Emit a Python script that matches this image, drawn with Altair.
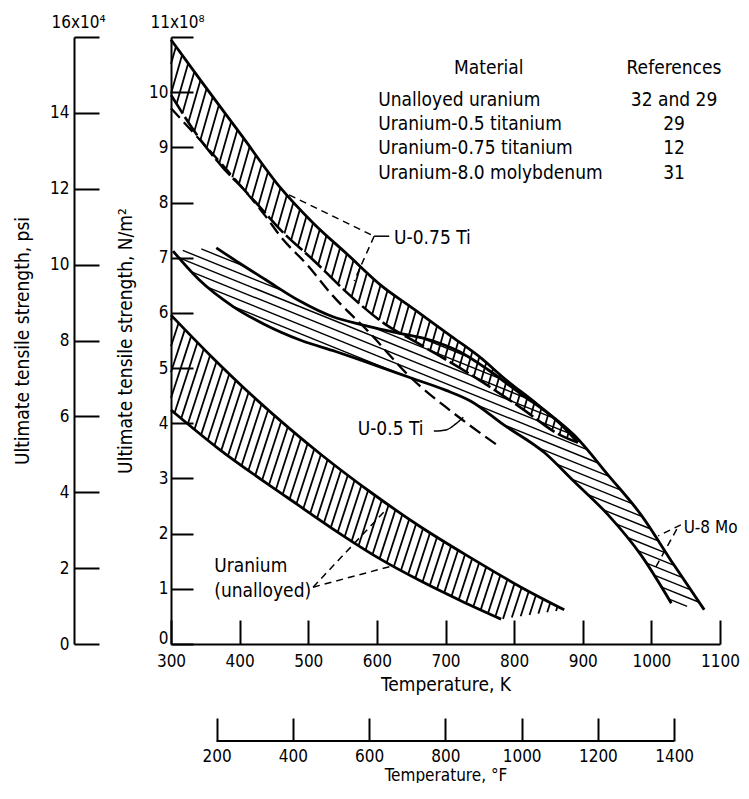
import altair as alt
import numpy as np
import pandas as pd

# ---------------- data ----------------
# Unalloyed uranium band (K, 10^8 N/m^2)
U_UP_T = [300, 358, 421, 475, 519, 591, 664, 737, 810, 873]
U_UP_V = [5.96, 5.22, 4.47, 3.88, 3.43, 2.75, 2.12, 1.56, 1.03, 0.62]
U_LO_T = [300, 368, 470, 551, 602, 664, 723, 781]
U_LO_V = [4.24, 3.55, 2.65, 1.96, 1.56, 1.14, 0.78, 0.45]

# Uranium-0.75 titanium band
T75_UP_T = [300, 344, 402, 460, 507, 558, 606, 654, 708, 752, 785, 835, 873, 893]
T75_UP_V = [10.95, 10.2, 9.23, 8.26, 7.63, 7.05, 6.5, 6.07, 5.58, 5.18, 4.82, 4.33, 3.92, 3.65]
T75_LO_T = [300, 341, 376, 409, 438, 460, 508, 558, 606, 664, 737, 810, 868, 893]
T75_LO_V = [9.95, 9.17, 8.63, 8.2, 7.8, 7.5, 6.95, 6.35, 5.85, 5.42, 4.88, 4.28, 3.78, 3.65]

# Uranium-8.0 molybdenum band
MO_UP_T = [366, 400, 438, 487, 536, 580, 630, 680, 720, 762, 810, 858, 887, 937, 985, 1033, 1077]
MO_UP_V = [7.18, 6.9, 6.6, 6.22, 5.93, 5.78, 5.64, 5.5, 5.3, 4.97, 4.53, 4.1, 3.79, 3.06, 2.34, 1.43, 0.62]
MO_LO_T = [303, 341, 390, 435, 490, 540, 580, 650, 700, 737, 785, 844, 887, 937, 985, 1029]
MO_LO_V = [7.12, 6.6, 6.12, 5.8, 5.5, 5.3, 5.13, 4.82, 4.6, 4.4, 3.97, 3.47, 2.95, 2.34, 1.61, 0.74]

# Uranium-0.5 titanium (dashed curve)
T05_T = [300, 344, 383, 438, 460, 500, 533, 587, 650, 708, 776]
T05_V = [9.71, 9.11, 8.57, 7.75, 7.38, 6.85, 6.35, 5.67, 4.82, 4.22, 3.6]

# Leader lines (K, 10^8 N/m^2)
LEAD_DASHED = {
    "t075a": ([472, 596], [8.14, 7.39]),
    "t075b": ([596, 567], [7.39, 6.58]),
    "ua": ([507, 613], [1.03, 2.43]),
    "ub": ([507, 621], [1.03, 1.41]),
    "moa": ([1043, 1010], [2.16, 1.96]),
    "mob": ([1037, 1004], [2.08, 1.34]),
}
LEAD_SOLID = {
    "t075stub": ([596, 618], [7.39, 7.39]),
    "t05": ([683, 701, 715, 726], [3.86, 3.88, 3.99, 4.11]),
}

# Annotation labels
LABEL_TEXT = ["U-0.75 Ti", "U-0.5 Ti", "Uranium", "(unalloyed)"]
LABEL_T = [625, 572, 363, 363]
LABEL_V = [7.36, 3.9, 1.41, 0.96]
MO_LABEL = ["U-8 Mo"]
MO_LABEL_T = [1047]
MO_LABEL_V = [2.1]

# Table
TABLE_HEAD = ["Material", "References"]
TABLE_MATERIAL = ["Unalloyed uranium", "Uranium-0.5 titanium",
                  "Uranium-0.75 titanium", "Uranium-8.0 molybdenum"]
TABLE_REFS = ["32 and 29", "29", "12", "31"]

K_TICKS = list(range(300, 1101, 100))
F_TICKS = list(range(200, 1401, 200))
NM2_TICKS = list(range(0, 12))
PSI_TICKS = list(range(0, 17, 2))

# ---------------- layout ----------------
W, H = 549, 607
K_MIN, K_MAX = 300, 1100
V_MAX = 11
PSI_MAX = 16
F_MIN = (K_MIN - 273.15) * 1.8 + 32
F_MAX = (K_MAX - 273.15) * 1.8 + 32
FONT = "DejaVu Sans Condensed, Liberation Sans Narrow, DejaVu Sans, sans-serif"
FS = 19      # titles and annotations
FS_TICK = 17  # tick labels


def to_px(t, v):
    return ((np.asarray(t, float) - K_MIN) / (K_MAX - K_MIN) * W,
            np.asarray(v, float) / V_MAX * H)


def to_data(x, y):
    return K_MIN + x / W * (K_MAX - K_MIN), y / H * V_MAX


def hatch(ts, vs, angle_deg, spacing, name):
    X, Y = to_px(ts, vs)
    P = np.column_stack([X, Y])
    a = np.radians(angle_deg)
    d = np.array([np.cos(a), np.sin(a)])
    n = np.array([-np.sin(a), np.cos(a)])
    proj = P @ n
    rows = []
    c = np.floor(proj.min() / spacing) * spacing + spacing * 0.5
    while c < proj.max():
        pts = []
        for i in range(len(P)):
            p, q = P[i], P[(i + 1) % len(P)]
            sp, sq = p @ n - c, q @ n - c
            if (sp < 0) != (sq < 0):
                tt = sp / (sp - sq)
                pts.append(p + tt * (q - p))
        pts.sort(key=lambda r: r @ d)
        for j in range(0, len(pts) - 1, 2):
            t1, v1 = to_data(*pts[j])
            t2, v2 = to_data(*pts[j + 1])
            rows.append({"t": t1, "v": v1, "t2": t2, "v2": v2, "band": name})
        c += spacing
    return rows


heavy_rows = []
heavy_rows += hatch(U_UP_T + U_LO_T[::-1], U_UP_V + U_LO_V[::-1], 72, 8.0, "u")
heavy_rows += hatch(T75_UP_T + T75_LO_T[::-1], T75_UP_V + T75_LO_V[::-1], 74, 8.2, "t75")
heavy_df = pd.DataFrame(heavy_rows)
mo_df = pd.DataFrame(hatch(MO_UP_T + MO_LO_T[::-1], MO_UP_V + MO_LO_V[::-1], -22, 8.3, "mo"))


def curve_df(items):
    frames = []
    for name, (ts, vs) in items.items():
        frames.append(pd.DataFrame({"t": ts, "v": vs, "curve": name, "i": range(len(ts))}))
    return pd.concat(frames, ignore_index=True)


solid_df = curve_df({
    "u_up": (U_UP_T, U_UP_V), "u_lo": (U_LO_T, U_LO_V),
    "t75_up": (T75_UP_T, T75_UP_V),
    "mo_up": (MO_UP_T, MO_UP_V), "mo_lo": (MO_LO_T, MO_LO_V),
})
t75lo_df = curve_df({"t75_lo": (T75_LO_T, T75_LO_V)})
t05_df = curve_df({"t05": (T05_T, T05_V)})
lead_d_df = curve_df(LEAD_DASHED)
lead_s_df = curve_df(LEAD_SOLID)

label_df = pd.DataFrame({"t": LABEL_T, "v": LABEL_V, "text": LABEL_TEXT})
mo_label_df = pd.DataFrame({"t": MO_LABEL_T, "v": MO_LABEL_V, "text": MO_LABEL})
head_df = pd.DataFrame({"t": [763, 1033], "v": [10.44, 10.44], "text": TABLE_HEAD})
mat_df = pd.DataFrame({"t": [602] * 4, "v": [9.86 - 0.44 * i for i in range(4)],
                       "text": TABLE_MATERIAL})
ref_df = pd.DataFrame({"t": [1033] * 4, "v": [9.86 - 0.44 * i for i in range(4)],
                       "text": TABLE_REFS})

# ---------------- scales & axes ----------------
x_scale = alt.Scale(domain=[K_MIN, K_MAX], nice=False, zero=False)
y_scale = alt.Scale(domain=[0, V_MAX], nice=False, zero=False)

common = dict(tickColor="black", tickWidth=2, domainColor="black", domainWidth=2,
              labelColor="black", labelFont=FONT, labelFontSize=FS_TICK, labelFlush=False,
              labelOverlap=False, grid=False, titleColor="black", titleFont=FONT,
              titleFontSize=FS, titleFontWeight="normal", format="d")

x_axis = alt.Axis(orient="top", offset=-H, values=K_TICKS, tickSize=24,
                  labelPadding=-33, labelBaseline="top", labelAlign="center",
                  title="Temperature, K", titleX=W / 2, titleY=40,
                  titleAlign="center", titleBaseline="middle", **common)

y_axis = alt.Axis(
    orient="right", offset=-W, values=NM2_TICKS, tickSize=22,
    labelExpr="datum.value == 11 ? '11x10\u2078' : datum.label",
    labelAlign={"condition": {"test": "datum.value == 11", "value": "center"}, "value": "right"},
    labelBaseline={"condition": {"test": "datum.value == 11", "value": "bottom"}, "value": "middle"},
    labelPadding={"condition": {"test": "datum.value == 11", "value": -16}, "value": -25},
    labelOffset={"condition": {"test": "datum.value == 11 || datum.value == 0", "value": -6}, "value": 0},
    title="Ultimate tensile strength, N/m\u00b2", titleAngle=270, titleX=-46, titleY=H / 2,
    titleAlign="center", titleBaseline="middle", **common)

psi_axis = alt.Axis(
    orient="right", offset=-(W + 97), values=PSI_TICKS, tickSize=25,
    labelExpr="datum.value == 16 ? '16x10\u2074' : datum.label",
    labelAlign={"condition": {"test": "datum.value == 16", "value": "center"}, "value": "right"},
    labelBaseline={"condition": {"test": "datum.value == 16", "value": "bottom"}, "value": "middle"},
    labelPadding={"condition": {"test": "datum.value == 16", "value": -21}, "value": -30},
    labelOffset={"condition": {"test": "datum.value == 16", "value": -6}, "value": 0},
    title="Ultimate tensile strength, psi", titleAngle=270, titleX=-52, titleY=H / 2,
    titleAlign="center", titleBaseline="middle", **common)

f_axis = alt.Axis(orient="top", offset=-(H + 97), values=F_TICKS, tickSize=23, domain=False,
                  labelPadding=-30, labelBaseline="top", labelAlign="center",
                  title="Temperature, \u00b0F", titleX=W / 2, titleY=34,
                  titleAlign="center", titleBaseline="middle",
                  **{**common, "titleFontSize": 17})


def X(f="t"):
    return alt.X(f, type="quantitative", scale=x_scale, axis=x_axis)


def Y(f="v"):
    return alt.Y(f, type="quantitative", scale=y_scale, axis=y_axis)


heavy_layer = alt.Chart(heavy_df).mark_rule(color="black", strokeWidth=1.8).encode(
    x=X(), y=Y(), x2="t2:Q", y2="v2:Q", detail="band:N")
mo_layer = alt.Chart(mo_df).mark_rule(color="black", strokeWidth=1.4).encode(
    x=X(), y=Y(), x2="t2:Q", y2="v2:Q", detail="band:N")

solid_layer = alt.Chart(solid_df).mark_line(color="black", strokeWidth=2.8, interpolate="monotone").encode(
    x=X(), y=Y(), detail="curve:N", order="i:Q")
t75lo_layer = alt.Chart(t75lo_df).mark_line(color="black", strokeWidth=2.6, strokeDash=[22, 4],
                                             interpolate="monotone").encode(
    x=X(), y=Y(), detail="curve:N", order="i:Q")
t05_layer = alt.Chart(t05_df).mark_line(color="black", strokeWidth=2.3, strokeDash=[13, 6],
                                         interpolate="monotone").encode(
    x=X(), y=Y(), detail="curve:N", order="i:Q")
lead_d_layer = alt.Chart(lead_d_df).mark_line(color="black", strokeWidth=1.5, strokeDash=[7, 5]).encode(
    x=X(), y=Y(), detail="curve:N", order="i:Q")
lead_s_layer = alt.Chart(lead_s_df).mark_line(color="black", strokeWidth=1.5, interpolate="monotone").encode(
    x=X(), y=Y(), detail="curve:N", order="i:Q")

label_layer = alt.Chart(label_df).mark_text(align="left", baseline="middle", font=FONT,
                                             fontSize=FS, color="black").encode(
    x=X(), y=Y(), text="text:N")
mo_label_layer = alt.Chart(mo_label_df).mark_text(align="left", baseline="middle", font=FONT,
                                                   fontSize=17, color="black").encode(
    x=X(), y=Y(), text="text:N")
head_layer = alt.Chart(head_df).mark_text(align="center", baseline="middle", font=FONT,
                                           fontSize=FS, color="black").encode(
    x=X(), y=Y(), text="text:N")
mat_layer = alt.Chart(mat_df).mark_text(align="left", baseline="middle", font=FONT,
                                         fontSize=FS, color="black").encode(
    x=X(), y=Y(), text="text:N")
ref_layer = alt.Chart(ref_df).mark_text(align="center", baseline="middle", font=FONT,
                                         fontSize=FS, color="black").encode(
    x=X(), y=Y(), text="text:N")

base = alt.layer(heavy_layer, mo_layer, solid_layer, t75lo_layer, t05_layer, lead_d_layer,
                 lead_s_layer, label_layer, mo_label_layer, head_layer, mat_layer, ref_layer)

psi_layer = alt.Chart(pd.DataFrame({"psi": [0, PSI_MAX]})).mark_rule(opacity=0).encode(
    y=alt.Y("psi:Q", scale=alt.Scale(domain=[0, PSI_MAX], nice=False, zero=False), axis=psi_axis))

f_layer = alt.Chart(pd.DataFrame({"f": [F_TICKS[0]], "f2": [F_TICKS[-1]]})).mark_rule(
    color="black", strokeWidth=2).encode(
    x=alt.X("f:Q", scale=alt.Scale(domain=[F_MIN, F_MAX], nice=False, zero=False), axis=f_axis),
    x2="f2:Q",
    y=alt.value(H + 97))

chart = alt.layer(base, psi_layer, f_layer).resolve_scale(
    x="independent", y="independent").properties(
    width=W, height=H, background="white",
    padding={"left": 5, "top": 5, "right": 0, "bottom": 0}).configure_view(stroke=None)

chart.save("out.html", embed_options={"renderer": "svg", "actions": False})
